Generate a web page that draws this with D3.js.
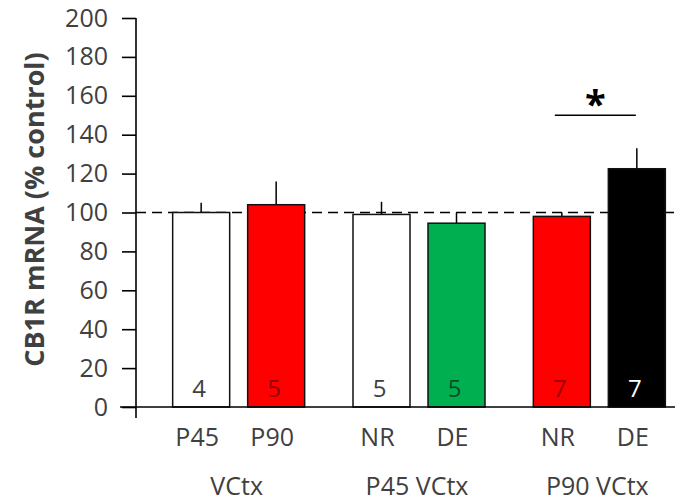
<!DOCTYPE html>
<html>
<head>
<meta charset="utf-8">
<script src="https://cdn.jsdelivr.net/npm/d3@7"></script>
<style>
  html, body { margin: 0; padding: 0; background: #fff; }
  svg { display: block; font-family: "Open Sans", sans-serif; }
</style>
</head>
<body>
<svg id="chart" width="675" height="503"></svg>
<script>
// CB1R mRNA expression, % of control
const groups = ["VCtx", "P45 VCtx", "P90 VCtx"];
const conditions = [["P45", "P90"], ["NR", "DE"], ["NR", "DE"]];
const means = [[100, 104], [99, 94.5], [98, 122.5]];
const sems = [[5, 12], [6.5, 5.5], [2, 10.5]];
const sampleSizes = [[4, 5], [5, 5], [7, 7]];
const fills = [["#ffffff", "#ff0000"], ["#ffffff", "#00b050"], ["#ff0000", "#000000"]];
const countColors = [["#404040", "#9a0000"], ["#404040", "#0b4d22"], ["#9a0000", "#ffffff"]];
const yTicks = [0, 20, 40, 60, 80, 100, 120, 140, 160, 180, 200];
const controlLevel = 100;
const significance = { group: 2, level: 150, label: "*" };

const svg = d3.select("#chart");

const y = d3.scaleLinear().domain([0, 200]).range([407, 18]);
const xGroup = d3.scaleBand().domain(groups).range([148.5, 689.5]).padding(0);
const xInner = d3.scaleBand().domain([0, 1]).range([-66, 66]).paddingInner(0.24).paddingOuter(0);

const axisX = 136;
const textColor = "#404040";

// flatten bars
const bars = [];
groups.forEach((g, gi) => {
  conditions[gi].forEach((c, ci) => {
    const cx = xGroup(g) + xGroup.bandwidth() / 2;
    bars.push({
      group: g, gi, ci, label: c,
      mean: means[gi][ci], sem: sems[gi][ci], n: sampleSizes[gi][ci],
      fill: fills[gi][ci], nColor: countColors[gi][ci],
      x: cx + xInner(ci), center: cx + xInner(ci) + xInner.bandwidth() / 2
    });
  });
});

// error bars (upper only)
svg.append("g").selectAll("line").data(bars).join("line")
  .attr("x1", d => d.center).attr("x2", d => d.center)
  .attr("y1", d => y(d.mean)).attr("y2", d => y(d.mean + d.sem))
  .attr("stroke", "#000").attr("stroke-width", 1.5);

// control reference line
svg.append("line")
  .attr("x1", axisX).attr("x2", 675)
  .attr("y1", y(controlLevel)).attr("y2", y(controlLevel))
  .attr("stroke", "#000").attr("stroke-width", 1.5)
  .attr("stroke-dasharray", "10,6");

// bars
svg.append("g").selectAll("rect").data(bars).join("rect")
  .attr("x", d => d.x).attr("width", xInner.bandwidth())
  .attr("y", d => y(d.mean)).attr("height", d => y(0) - y(d.mean))
  .attr("fill", d => d.fill)
  .attr("stroke", "#111").attr("stroke-width", 1.5);

// sample sizes inside bars
svg.append("g").selectAll("text").data(bars).join("text")
  .attr("x", d => d.center - 2).attr("y", 397)
  .attr("text-anchor", "middle")
  .attr("font-size", 24)
  .attr("fill", d => d.nColor)
  .text(d => d.n);

// y axis
const yAxis = d3.axisLeft(y).tickValues(yTicks).tickSize(14).tickPadding(14).tickSizeOuter(0);
const gy = svg.append("g").attr("transform", `translate(${axisX},0)`).call(yAxis);
gy.select(".domain").remove();
gy.selectAll(".tick line").attr("stroke", "#000").attr("stroke-width", 1.6);
gy.selectAll(".tick text")
  .attr("font-family", "'Open Sans', sans-serif")
  .attr("font-size", 25).attr("fill", textColor);
svg.append("line")
  .attr("x1", axisX).attr("x2", axisX)
  .attr("y1", y(200)).attr("y2", y(0) + 11)
  .attr("stroke", "#000").attr("stroke-width", 1.6);

// baseline
svg.append("line")
  .attr("x1", 120).attr("x2", 675)
  .attr("y1", y(0)).attr("y2", y(0))
  .attr("stroke", "#000").attr("stroke-width", 1.6);

// condition labels
svg.append("g").selectAll("text").data(bars).join("text")
  .attr("x", d => d.center - 4).attr("y", 446)
  .attr("text-anchor", "middle")
  .attr("font-size", 25).attr("fill", textColor)
  .text(d => d.label);

// group labels
svg.append("g").selectAll("text").data(groups).join("text")
  .attr("x", d => xGroup(d) + xGroup.bandwidth() / 2 - 2).attr("y", 495)
  .attr("text-anchor", "middle")
  .attr("font-size", 25).attr("fill", textColor)
  .text(d => d);

// y axis title
svg.append("text")
  .attr("transform", `translate(44,${y(100) - 3}) rotate(-90)`)
  .attr("text-anchor", "middle")
  .attr("font-size", 27).attr("font-weight", "bold").attr("fill", textColor)
  .text("CB1R mRNA (% control)");

// significance marker
const sigBars = bars.filter(b => b.gi === significance.group);
const sigX1 = sigBars[0].center - 7, sigX2 = sigBars[1].center - 1;
svg.append("line")
  .attr("x1", sigX1).attr("x2", sigX2)
  .attr("y1", y(significance.level)).attr("y2", y(significance.level))
  .attr("stroke", "#000").attr("stroke-width", 1.5);
svg.append("text")
  .attr("x", (sigX1 + sigX2) / 2)
  .attr("y", y(significance.level) + 3)
  .attr("text-anchor", "middle")
  .attr("font-size", 38).attr("font-weight", "bold").attr("fill", "#000")
  .text(significance.label);
</script>
</body>
</html>
